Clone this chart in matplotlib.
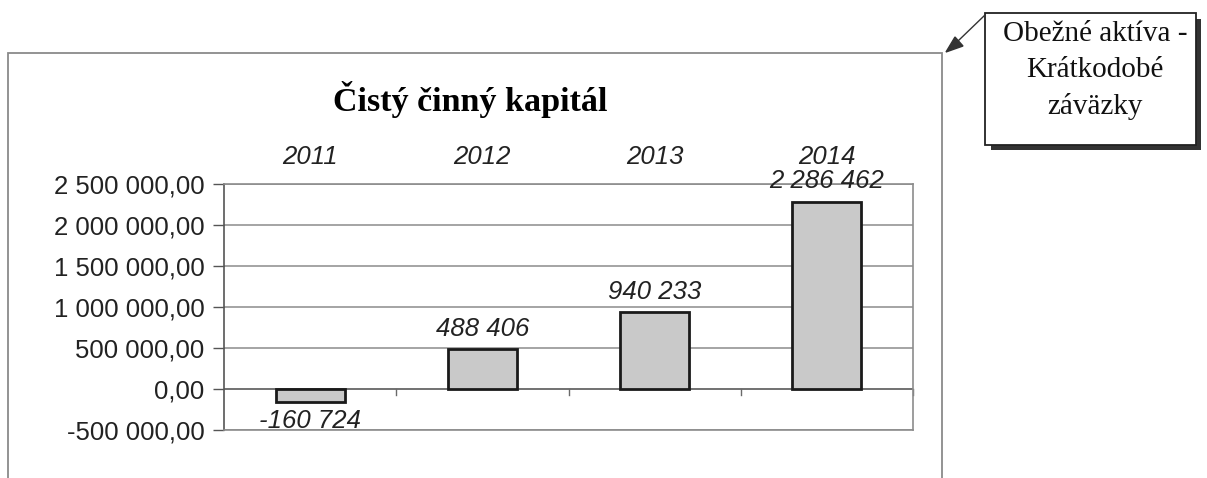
import matplotlib
matplotlib.use("Agg")
import matplotlib.pyplot as plt
from matplotlib.patches import Rectangle, Polygon
import matplotlib.transforms as mtransforms

categories = ["2011", "2012", "2013", "2014"]
values = [-160724, 488406, 940233, 2286462]
value_labels = ["-160 724", "488 406", "940 233", "2 286 462"]
yticks = [-500000, 0, 500000, 1000000, 1500000, 2000000, 2500000]
title = "Čistý činný kapitál"
callout_lines = ["Obežné aktíva -", "Krátkodobé", "záväzky"]

W, H = 1207, 478
fig = plt.figure(figsize=(W / 100, H / 100), dpi=100)
fig.patch.set_facecolor("white")

def fx(px):
    return px / W

def fy(py):
    return 1 - py / H

sans = ["Liberation Sans", "DejaVu Sans"]
serif = ["Liberation Serif", "DejaVu Serif"]
FS = 18.5

# outer chart frame
frame = Rectangle((fx(8), fy(490)), fx(942) - fx(8), fy(53) - fy(490),
                  transform=fig.transFigure, fill=False, edgecolor="#8a8a8a",
                  linewidth=1.3, clip_on=False)
fig.patches.append(frame)

# title
fig.text(fx(470), fy(99), title, ha="center", va="center",
         family=serif, fontweight="bold", fontsize=24.5)

ax = fig.add_axes([fx(224), fy(430), fx(913) - fx(224), fy(184) - fy(430)])
x = list(range(len(categories)))
ax.bar(x, values, width=0.4, color="#c9c9c9", edgecolor="#1a1a1a",
       linewidth=2, zorder=3)
ax.set_xlim(-0.5, len(categories) - 0.5)
ax.set_ylim(yticks[0], yticks[-1])
ax.set_yticks(yticks)

def fmt(v):
    s = f"{abs(v):,.0f}".replace(",", " ")
    return ("-" if v < 0 else "") + s + ",00"

ax.set_yticklabels([fmt(v) for v in yticks], family=sans, fontsize=FS,
                   color="#222222")
ax.yaxis.grid(True, color="#8c8c8c", linewidth=1.1, zorder=0)
ax.tick_params(axis="y", length=8, width=1, color="#555555", pad=6)

# category labels on top
ax.set_xticks(x)
ax.set_xticklabels(categories, family=sans, fontsize=FS, style="italic",
                   color="#222222")
ax.xaxis.tick_top()
ax.tick_params(axis="x", length=0, pad=11)

for side in ["top", "right", "bottom"]:
    ax.spines[side].set_color("#8c8c8c")
    ax.spines[side].set_linewidth(1.2)
ax.spines["left"].set_color("#555555")
ax.spines["left"].set_linewidth(1.2)

# zero axis line and category boundary ticks
ax.axhline(0, color="#6a6a6a", linewidth=1.2, zorder=2)
blend = mtransforms.blended_transform_factory(ax.transData, ax.transAxes)
zero_frac = (0 - yticks[0]) / (yticks[-1] - yticks[0])
for i in range(len(categories)):
    b = i + 0.5
    ax.plot([b, b], [zero_frac, zero_frac - 0.025], transform=blend,
            color="#6a6a6a", linewidth=1, clip_on=False, zorder=2)

# data labels
for xi, v, lab in zip(x, values, value_labels):
    if v >= 0:
        ax.annotate(lab, (xi, v), xytext=(0, 6), textcoords="offset points",
                    ha="center", va="bottom", family=sans, style="italic",
                    fontsize=FS, color="#222222", zorder=5,
                    annotation_clip=False)
    else:
        ax.annotate(lab, (xi, v), xytext=(0, -5), textcoords="offset points",
                    ha="center", va="top", family=sans, style="italic",
                    fontsize=FS, color="#222222", zorder=5,
                    annotation_clip=False)

# callout box with shadow
shadow = Rectangle((fx(991), fy(150)), fx(1201) - fx(991), fy(19) - fy(150),
                   transform=fig.transFigure, facecolor="#333333",
                   edgecolor="none", clip_on=False)
fig.patches.append(shadow)
box = Rectangle((fx(985), fy(145)), fx(1196) - fx(985), fy(13) - fy(145),
                transform=fig.transFigure, facecolor="white",
                edgecolor="#222222", linewidth=1.3, clip_on=False)
fig.patches.append(box)
for i, line in enumerate(callout_lines):
    fig.text(fx(1095), fy(34 + i * 36), line, ha="center", va="center",
             family=serif, fontsize=21, color="#111111")

# pointer
fig.lines.append(plt.Line2D([fx(985), fx(958)], [fy(15), fy(41)],
                            transform=fig.transFigure, color="#333333",
                            linewidth=1))
tri = Polygon([(fx(946), fy(52)), (fx(955), fy(37)), (fx(963), fy(46))],
              closed=True, transform=fig.transFigure, facecolor="#333333",
              edgecolor="#333333")
fig.patches.append(tri)

fig.savefig("out.png", dpi=100)
